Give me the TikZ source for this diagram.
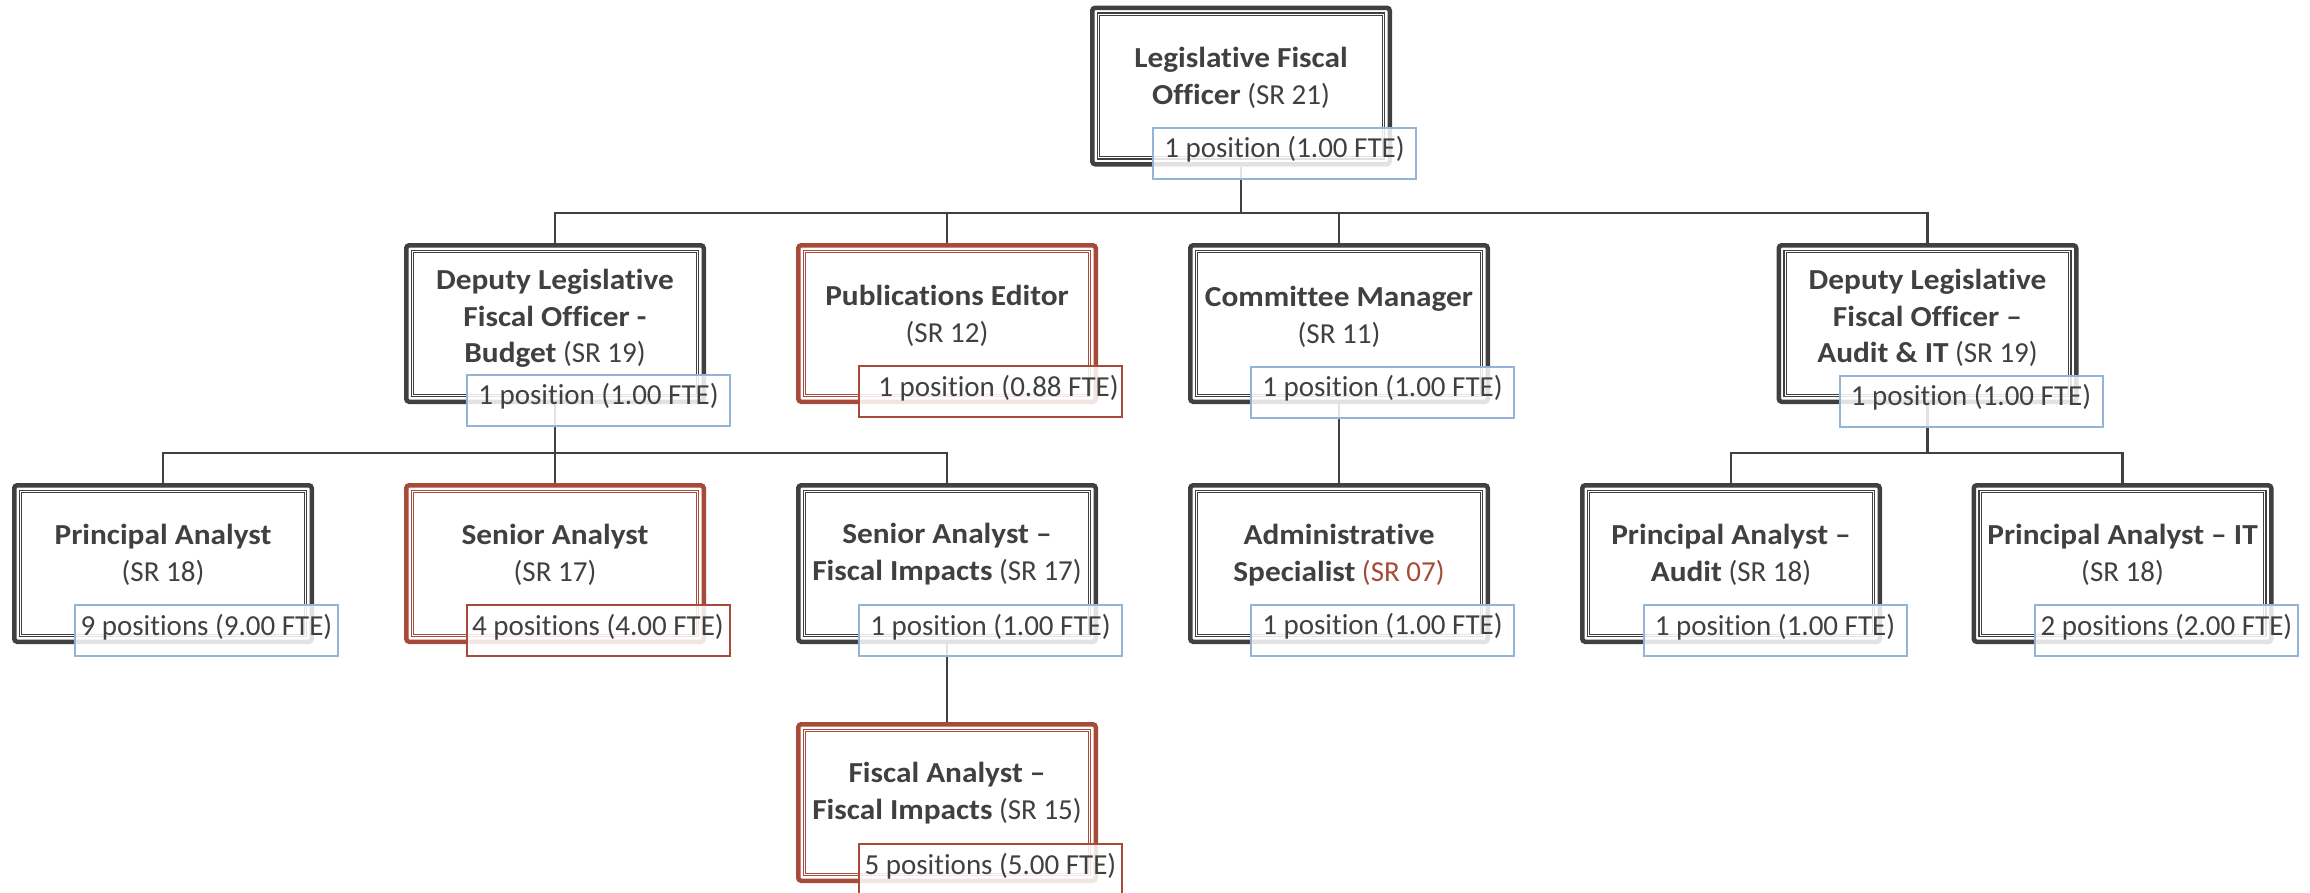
\documentclass[tikz,border=0pt]{standalone}
\usepackage{fontspec}
\setmainfont{Carlito}[Ligatures=NoCommon, BoldFeatures={FakeStretch=1.08}]
\definecolor{dg}{RGB}{64,64,64}
\definecolor{rd}{RGB}{166,75,58}
\definecolor{lb}{RGB}{149,179,215}
\pgfdeclarelayer{bg}
\pgfsetlayers{bg,main}
\tikzset{
  box/.style={draw=dg, fill=white, line width=4.5pt, rounded corners=3pt,
    minimum width=297.5pt, minimum height=156.5pt, inner sep=0pt},
  rbox/.style={box, draw=rd},
  iboxa/.style={draw=#1, line width=1.2pt, minimum width=287pt, minimum height=146pt, inner sep=0pt},
  iboxb/.style={draw=#1, line width=1.2pt, minimum width=282.6pt, minimum height=141.6pt, inner sep=0pt},
  ttl/.style={text=dg, align=center, inner sep=0pt, anchor=north,
    font=\fontsize{29}{36.5}\selectfont},
  lbl/.style={draw=lb, line width=2pt, fill=white, fill opacity=0.85, text opacity=1,
    text=dg, minimum width=263pt, minimum height=51pt, inner sep=0pt,
    font=\fontsize{29}{35}\selectfont, text height=18pt, text depth=9pt},
  rlbl/.style={lbl, draw=rd},
  conn/.style={draw=dg, line width=2.6pt}
}
\begin{document}
\begin{tikzpicture}[x=1pt,y=-1pt]
\useasboundingbox (0,0) rectangle (2310,892);
% boxes
\node[box]  (lfo)  at (1241,86) {};
\node[box]  (dlb)  at (555,323.5) {};
\node[rbox] (pub)  at (947,323.5) {};
\node[box]  (cm)   at (1339,323.5) {};
\node[box]  (dla)  at (1927.5,323.5) {};
\node[box]  (pa)   at (163,563.5) {};
\node[rbox] (sa)   at (555,563.5) {};
\node[box]  (safi) at (947,563.5) {};
\node[box]  (adm)  at (1339,563.5) {};
\node[box]  (paa)  at (1731,563.5) {};
\node[box]  (pait) at (2122.5,563.5) {};
\node[rbox] (fa)   at (947,802.5) {};
% inner lines
\foreach \n in {lfo,dlb,cm,dla,pa,safi,adm,paa,pait} {
  \node[iboxa=dg] (\n-a) at (\n.center) {};
  \node[iboxb=dg] (\n-b) at (\n.center) {};
}
\foreach \n in {pub,sa,fa} {
  \node[iboxa=rd] (\n-a) at (\n.center) {};
  \node[iboxb=rd] (\n-b) at (\n.center) {};
}
% titles
\node[ttl] (t-lfo)  at (1241,47)  {\textbf{Legislative Fiscal}\\\textbf{Officer} (SR 21)};
\node[ttl] (t-dlb)  at (555,269)  {\textbf{Deputy Legislative}\\\textbf{Fiscal Officer -}\\\textbf{Budget} (SR 19)};
\node[ttl] (t-pub)  at (947,285)  {\textbf{Publications Editor}\\(SR 12)};
\node[ttl] (t-cm)   at (1339,286) {\textbf{Committee Manager}\\(SR 11)};
\node[ttl] (t-dla)  at (1927.5,269) {\textbf{Deputy Legislative}\\\textbf{Fiscal Officer –}\\\textbf{Audit \& IT} (SR 19)};
\node[ttl] (t-pa)   at (163,524)  {\textbf{Principal Analyst}\\(SR 18)};
\node[ttl] (t-sa)   at (555,524)  {\textbf{Senior Analyst}\\(SR 17)};
\node[ttl] (t-safi) at (947,523)  {\textbf{Senior Analyst –}\\\textbf{Fiscal Impacts} (SR 17)};
\node[ttl] (t-adm)  at (1339,524) {\textbf{Administrative}\\\textbf{Specialist} \textcolor{rd}{(SR 07)}};
\node[ttl] (t-paa)  at (1731,524) {\textbf{Principal Analyst –}\\\textbf{Audit} (SR 18)};
\node[ttl] (t-pait) at (2122.5,524) {\textbf{Principal Analyst – IT}\\(SR 18)};
\node[ttl] (t-fa)   at (947,762)  {\textbf{Fiscal Analyst –}\\\textbf{Fiscal Impacts} (SR 15)};
% labels
\node[lbl]  (l-lfo)  at (1284.5,153) {1 position (1.00 FTE)};
\node[lbl]  (l-dlb)  at (598.5,400)  {1 position (1.00 FTE)};
\node[rlbl] (l-pub)  at (990.5,391.5) {\hspace*{16pt}1 position (0.88 FTE)};
\node[lbl]  (l-cm)   at (1382.5,392) {1 position (1.00 FTE)};
\node[lbl]  (l-dla)  at (1971,401)   {1 position (1.00 FTE)};
\node[lbl]  (l-pa)   at (206.5,630.5) {9 positions (9.00 FTE)};
\node[rlbl] (l-sa)   at (598,630.5)  {4 positions (4.00 FTE)};
\node[lbl]  (l-safi) at (990.5,630.5) {1 position (1.00 FTE)};
\node[lbl]  (l-adm)  at (1382.5,630) {1 position (1.00 FTE)};
\node[lbl]  (l-paa)  at (1775,630.5) {1 position (1.00 FTE)};
\node[lbl]  (l-pait) at (2166.5,630.5) {2 positions (2.00 FTE)};
\node[rlbl] (l-fa)   at (990.5,869.5) {5 positions (5.00 FTE)};
% connectors
\coordinate (bus1) at (1241,213);
\coordinate (bus2) at (555,453);
\coordinate (bus3) at (1927.5,453);
\begin{pgfonlayer}{bg}
\fill[white] (0,0) rectangle (2310,892);
\draw[conn] (lfo.south) -- (bus1);
\foreach \c in {dlb,pub,cm,dla} \draw[conn] (\c.north) |- (bus1);
\draw[conn] (dlb.south) -- (bus2);
\foreach \c in {pa,sa,safi} \draw[conn] (\c.north) |- (bus2);
\draw[conn] (dla.south) -- (bus3);
\foreach \c in {paa,pait} \draw[conn] (\c.north) |- (bus3);
\draw[conn] (cm.south) -- (adm.north);
\draw[conn] (safi.south) -- (fa.north);
\end{pgfonlayer}
\end{tikzpicture}
\end{document}
